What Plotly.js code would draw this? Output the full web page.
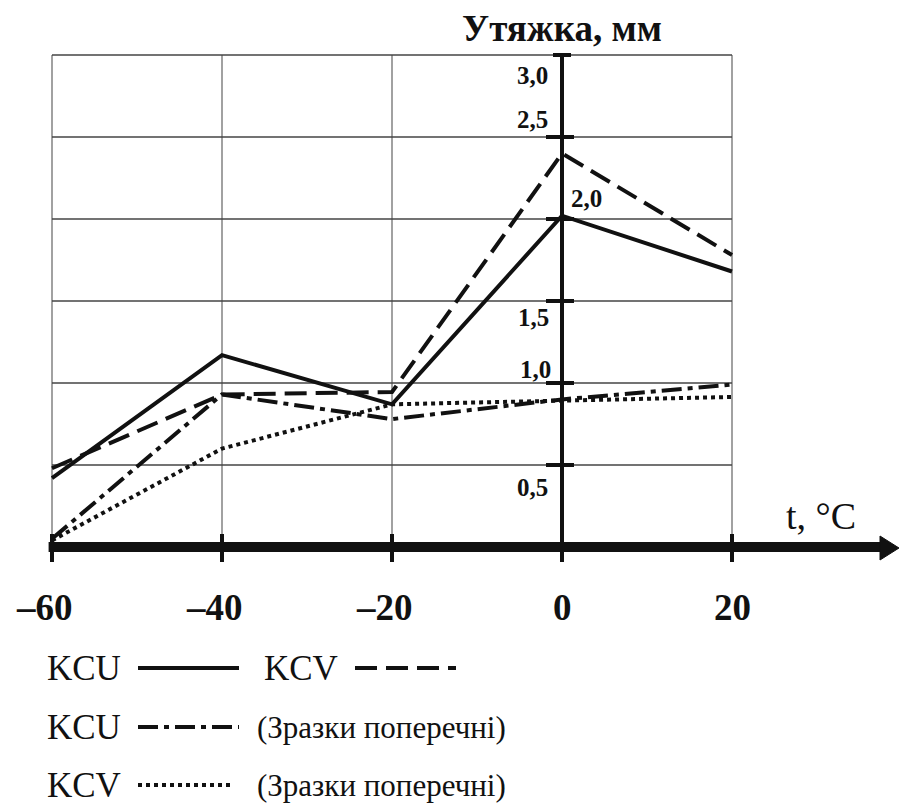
<!DOCTYPE html>
<html>
<head>
<meta charset="utf-8">
<script src="https://cdn.plot.ly/plotly-3.0.1.min.js"></script>
<style>
  html, body { margin: 0; padding: 0; background: #fff; }
  #chart { width: 901px; height: 806px; }
</style>
</head>
<body>
<div id="chart"></div>
<script>
// Temperatures, °C
const temps = [-60, -40, -20, 0, 20];
// Утяжка, мм
const kcu = [0.42, 1.17, 0.87, 2.02, 1.68];
const kcv = [0.48, 0.93, 0.945, 2.40, 1.78];
const kcuTransverse = [0.05, 0.93, 0.78, 0.90, 0.99];
const kcvTransverse = [0.04, 0.60, 0.87, 0.89, 0.915];

// Axis ticks and labels
const xTickVals = [-60, -40, -20, 0, 20];
const xTickText = ['–60', '–40', '–20', '0', '20'];
const yTickVals = [0.5, 1.0, 1.5, 2.0, 2.5, 3.0];
const yTickText = ['0,5', '1,0', '1,5', '2,0', '2,5', '3,0'];

const titleText = 'Утяжка, мм';
const xTitleText = 't, °C';
const legendRows = [
  [{ name: 'KCU', dash: 'solid' }, { name: 'KCV', dash: 'dash' }],
  [{ name: 'KCU', dash: 'dashdot', note: '(Зразки поперечні)' }],
  [{ name: 'KCV', dash: 'dot', note: '(Зразки поперечні)' }]
];

// ---- geometry (pixel scale of the drawing) ----
const W = 901, H = 806;
const X0 = 562, SX = 8.5;   // px of t = 0, px per °C
const Y0 = 547, SY = 164;   // px of y = 0, px per mm
const dx = px => (px - X0) / SX;
const dy = py => (Y0 - py) / SY;

const FONT = '"Liberation Serif", "Times New Roman", serif';
const INK = '#111';

const dashStyles = {
  solid: 'solid',
  dash: '22px,9px',
  dashdot: '20px,6px,5px,6px',
  dot: '4px,4px'
};

function lineTrace(y, dash) {
  return {
    x: temps, y: y, type: 'scatter', mode: 'lines',
    line: { color: INK, width: 4, dash: dashStyles[dash] },
    hoverinfo: 'skip'
  };
}

const traces = [
  lineTrace(kcu, 'solid'),
  lineTrace(kcv, 'dash'),
  lineTrace(kcuTransverse, 'dashdot'),
  lineTrace(kcvTransverse, 'dot')
];

const shapes = [];
const xMin = xTickVals[0], xMax = xTickVals[xTickVals.length - 1];
const yMax = yTickVals[yTickVals.length - 1];

// grid
xTickVals.forEach(v => {
  if (v === 0) return;
  shapes.push({ type: 'line', x0: v, x1: v, y0: 0, y1: yMax, layer: 'below',
    line: { color: '#8a8a8a', width: 1.6 } });
});
yTickVals.forEach(v => {
  shapes.push({ type: 'line', x0: xMin, x1: xMax, y0: v, y1: v, layer: 'below',
    line: { color: '#444', width: 1.4 } });
});

// x axis with arrow
shapes.push({ type: 'line', x0: xMin - 0.4, x1: dx(884), y0: 0, y1: 0,
  line: { color: INK, width: 10 } });
shapes.push({ type: 'path', fillcolor: INK, line: { color: INK, width: 1 },
  path: `M ${dx(880)} ${dy(536)} L ${dx(899)} ${dy(548)} L ${dx(880)} ${dy(560)} Z` });
xTickVals.forEach(v => {
  shapes.push({ type: 'line', x0: v, x1: v, y0: dy(534), y1: dy(562),
    line: { color: INK, width: 4 } });
});

// y axis at t = 0
shapes.push({ type: 'line', x0: 0, x1: 0, y0: dy(561), y1: yMax,
  line: { color: INK, width: 4 } });
yTickVals.forEach(v => {
  const top = v === yMax;
  shapes.push({ type: 'line', x0: top ? -9 / SX : -16 / SX, x1: top ? 9 / SX : 12 / SX,
    y0: v, y1: v, line: { color: INK, width: 4 } });
});

const annotations = [];
// x tick labels
xTickVals.forEach((v, i) => {
  annotations.push({ x: v, y: 0, xref: 'x', yref: 'y', text: xTickText[i], showarrow: false,
    xanchor: 'center', yanchor: 'middle', yshift: -60, xshift: v < 0 ? -8 : 0,
    font: { family: FONT, size: 37, color: INK, weight: 'bold' } });
});
// y tick labels, placed beside their ticks
const yLabelOffsets = [[-30, -22], [-27, 14], [-29, -16], [24, 21], [-30, 18], [-30, -20]];
yTickVals.forEach((v, i) => {
  annotations.push({ x: 0, y: v, xref: 'x', yref: 'y', text: yTickText[i], showarrow: false,
    xanchor: 'center', yanchor: 'middle', xshift: yLabelOffsets[i][0], yshift: yLabelOffsets[i][1],
    font: { family: FONT, size: 25, color: INK, weight: 'bold' } });
});
// axis titles
annotations.push({ x: 0, y: dy(28), xref: 'x', yref: 'y', text: titleText, showarrow: false,
  xanchor: 'center', yanchor: 'middle',
  font: { family: FONT, size: 37, color: INK, weight: 'bold' } });
annotations.push({ x: dx(821), y: dy(516), xref: 'x', yref: 'y', text: xTitleText, showarrow: false,
  xanchor: 'center', yanchor: 'middle',
  font: { family: FONT, size: 38, color: INK } });

// legend block
const rowY = [668, 727, 785];
legendRows.forEach((row, r) => {
  const y = dy(rowY[r]);
  row.forEach((item, k) => {
    const textX = k === 0 ? 45 : 262;
    const lineX0 = k === 0 ? 138 : 355;
    const lineLen = item.dash === 'dot' ? 94 : 101;
    annotations.push({ x: dx(textX), y: y, xref: 'x', yref: 'y', text: item.name, showarrow: false,
      xanchor: 'left', yanchor: 'middle', font: { family: FONT, size: 35, color: INK } });
    shapes.push({ type: 'line', x0: dx(lineX0), x1: dx(lineX0 + lineLen), y0: y, y1: y,
      line: { color: INK, width: 4, dash: dashStyles[item.dash] } });
    if (item.note) {
      annotations.push({ x: dx(255), y: y, xref: 'x', yref: 'y', text: item.note, showarrow: false,
        xanchor: 'left', yanchor: 'middle', font: { family: FONT, size: 31, color: INK } });
    }
  });
});

const layout = {
  width: W, height: H,
  margin: { l: 0, r: 0, t: 0, b: 0, pad: 0 },
  paper_bgcolor: '#fff', plot_bgcolor: '#fff',
  showlegend: false, hovermode: false,
  xaxis: { range: [dx(0), dx(W)], visible: false, fixedrange: true },
  yaxis: { range: [dy(H), dy(0)], visible: false, fixedrange: true },
  shapes: shapes,
  annotations: annotations
};

Plotly.newPlot('chart', traces, layout, { staticPlot: true, displayModeBar: false });
</script>
</body>
</html>
